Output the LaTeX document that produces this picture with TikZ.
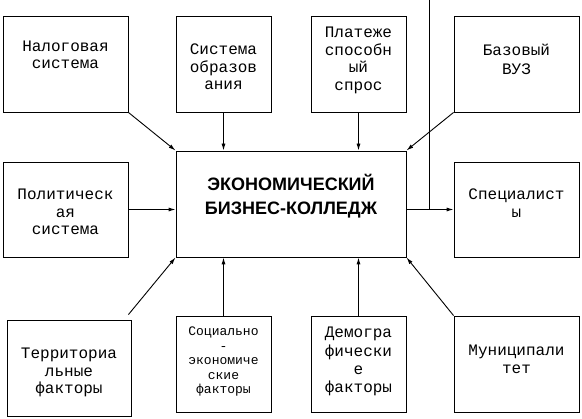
\documentclass[tikz,border=0pt]{standalone}
\usepackage{fontspec}
\setmainfont{Liberation Mono}
\newfontfamily\monof{Liberation Mono}
\newfontfamily\sansbf{Liberation Sans}
\usetikzlibrary{arrows.meta}
\begin{document}
\begin{tikzpicture}[x=1pt,y=-1pt,
  box/.style={draw, line width=0.9pt, rectangle, inner sep=0pt},
  lbl/.style={align=center, inner sep=0pt, font=\monof\fontsize{16}{17.5}\selectfont},
  lbls/.style={align=center, inner sep=0pt, font=\monof\fontsize{13}{14.5}\selectfont},
  lbll/.style={align=center, inner sep=0pt, font=\monof\fontsize{16}{18.3}\selectfont},
  lblc/.style={align=center, inner sep=0pt, font=\sansbf\bfseries\fontsize{18}{24}\selectfont},
  arr/.style={line width=0.9pt, -{Latex[length=7pt,width=4pt]}},
  ln/.style={line width=0.9pt}]
\useasboundingbox (0,0) rectangle (582,419);
% top row
\node[box, minimum width=125pt, minimum height=96pt,
  label={[lbl, name=tnal, yshift=9pt]center:{Налоговая\\система}}] (nal) at (65.5,64) {};
\node[box, minimum width=95pt, minimum height=96pt,
  label={[lbl, name=tsys, yshift=-3pt]center:{Система\\образов\\ания}}] (sys) at (223.5,64) {};
\node[box, minimum width=95pt, minimum height=96pt,
  label={[lbl, name=tpla, yshift=3.7pt]center:{Платеже\\способн\\ый\\спрос}}] (pla) at (358.5,64) {};
\node[box, minimum width=125pt, minimum height=96pt,
  label={[lbll, name=tbaz, yshift=4.5pt]center:{Базовый\\ВУЗ}}] (baz) at (516.5,64) {};
% middle row
\node[box, minimum width=125pt, minimum height=95pt,
  label={[lbl, name=tpol, yshift=-2.5pt]center:{Политическ\\ая\\система}}] (pol) at (65.5,209.5) {};
\node[box, minimum width=230pt, minimum height=106pt,
  label={[lblc, name=tmain, yshift=7.6pt]center:{ЭКОНОМИЧЕСКИЙ\\БИЗНЕС-КОЛЛЕДЖ}}] (main) at (291,204) {};
\node[box, minimum width=125pt, minimum height=95pt,
  label={[lbl, name=tspe, yshift=6.5pt]center:{Специалист\\ы}}] (spe) at (516.5,209.5) {};
% bottom row
\node[box, minimum width=124pt, minimum height=96pt,
  label={[lbl, name=tter, yshift=-4.6pt]center:{Территориа\\льные\\факторы}}] (ter) at (69,368) {};
\node[box, minimum width=95pt, minimum height=96pt,
  label={[lbls, name=tsoc, yshift=2.4pt]center:{Социально\\-\\экономиче\\ские\\факторы}}] (soc) at (223.5,364) {};
\node[box, minimum width=95pt, minimum height=96pt,
  label={[lbll, name=tdem, yshift=2.4pt]center:{Демогра\\фически\\е\\факторы}}] (dem) at (358.5,364) {};
\node[box, minimum width=125pt, minimum height=96pt,
  label={[lbll, name=tmun, yshift=4.5pt]center:{Муниципали\\тет}}] (mun) at (516.5,364) {};
% free end of the vertical line
\coordinate (topend) at (429,0);
% connectors
\draw[arr] (nal.south east) -- (main.north west);
\draw[arr] (sys.south) -- (sys.south |- main.north);
\draw[arr] (pla.south) -- (pla.south |- main.north);
\draw[arr] (baz.south west) -- (main.north east);
\draw[arr] (pol.east) -- (pol.east -| main.west);
\draw[arr] (spe.west -| main.east) -- (spe.west);
\draw[ln] (topend) -- (topend |- spe.west);
\draw[arr] ([shift={(-3,-5)}]ter.north east) -- (main.south west);
\draw[arr] (soc.north) -- (soc.north |- main.south);
\draw[arr] (dem.north) -- (dem.north |- main.south);
\draw[arr] (mun.north west) -- (main.south east);
\end{tikzpicture}
\end{document}
